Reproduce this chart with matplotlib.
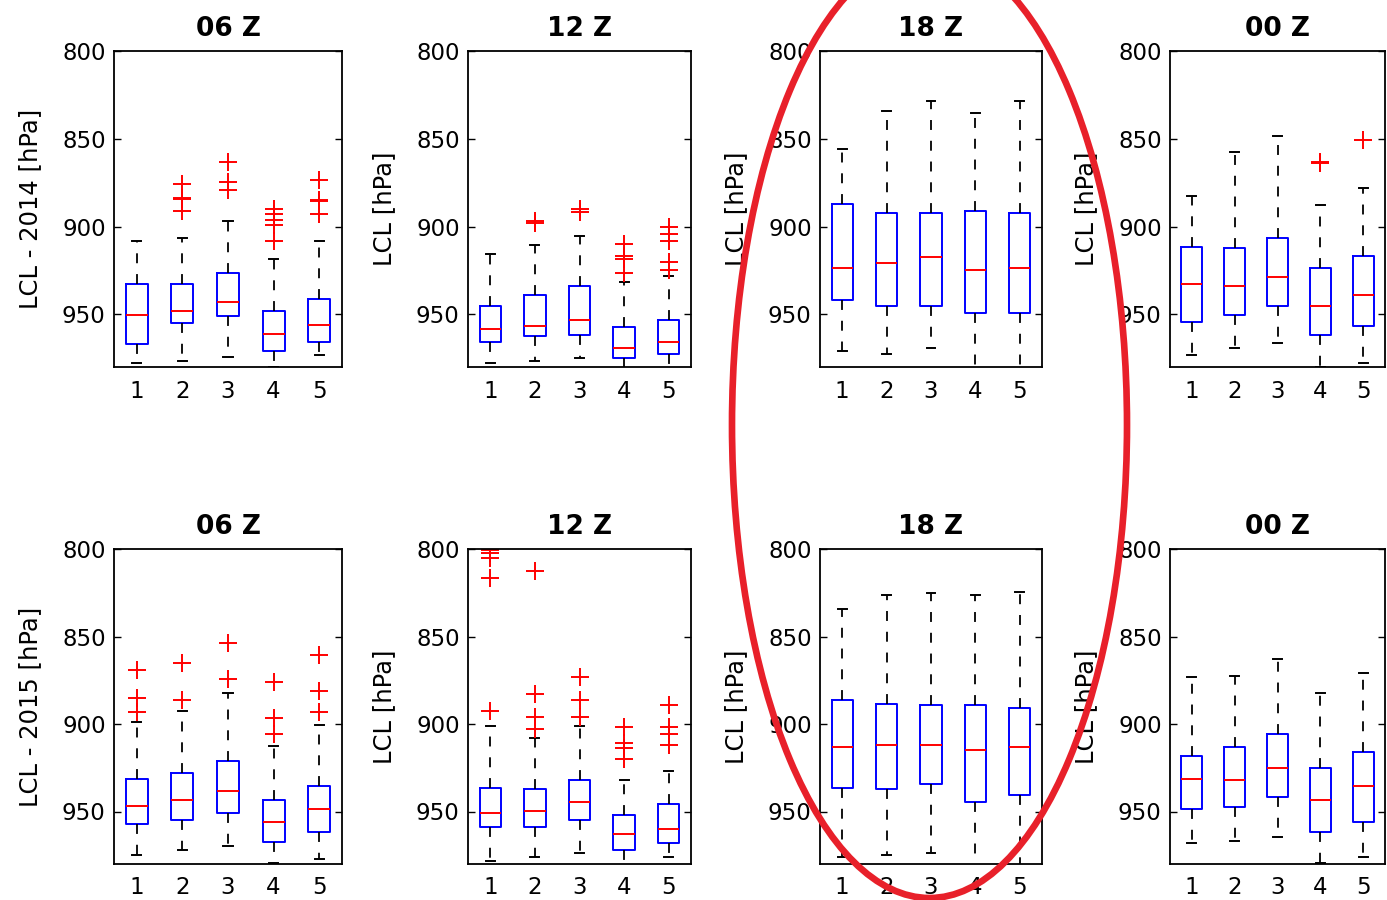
import matplotlib
matplotlib.use("Agg")
import matplotlib.pyplot as plt
from matplotlib.patches import Ellipse

plt.rcParams['font.family'] = ['DejaVu Sans']

hours = ['06 Z', '12 Z', '18 Z', '00 Z']
years = ['2014', '2015']
stations = [1, 2, 3, 4, 5]

# per panel (row = hour), five boxes each; pressure axis is inverted
# whisker ends (upper cap = lower pressure)
cap_top_2014 = [[908, 906.5, 897, 918.5, 908],
                [915.6, 910.3, 905.5, 931.4, 928],
                [856, 833.9, 828.6, 835.6, 828.6],
                [882.7, 857.7, 848.4, 887.8, 878.1]]
box_top_2014 = [[933, 933, 926.5, 948, 941],
                [945.1, 938.9, 933.9, 957.1, 953.3],
                [886.9, 892.2, 892.2, 891, 892.2],
                [911.6, 912.4, 906.5, 923.8, 916.6]]
median_2014 = [[950.3, 948, 943, 961.3, 956.2],
               [958.3, 956.4, 953.1, 969.3, 965.5],
               [923.8, 920.6, 917.5, 924.8, 923.8],
               [933, 933.9, 928.8, 945.1, 938.9]]
box_bot_2014 = [[966.7, 955.2, 951, 971, 965.5],
                [965.5, 962.5, 961.5, 974.7, 972.8],
                [941.9, 945.3, 945.3, 949.5, 949.5],
                [954.3, 950.3, 945.3, 961.5, 956.4]]
cap_bot_2014 = [[977.7, 976.6, 974.3, 980, 973.1],
                [977.7, 976.6, 974.7, 983, 983],
                [970.9, 972.8, 969.3, 983, 983],
                [973.3, 969.3, 966.5, 979.8, 977.5]]
outliers_2014 = [[[], [875.6, 883.6, 884.4, 890.9], [863.2, 874.5, 879.4],
                  [889.9, 892.8, 896, 898.9, 908.2], [873.7, 884.8, 885.5, 892.8]],
                 [[], [897, 898], [889.9, 891.8],
                  [909.9, 916.6, 918.5, 926.7], [900, 904.2, 908, 920.4, 924.8]],
                 [[], [], [], [], []],
                 [[], [], [], [863.5, 864], [850.9]]]

cap_top_2015 = [[898.7, 892.6, 882.5, 912.4, 900.6],
                [901.1, 907.8, 901, 932, 926.9],
                [834.5, 826.3, 825.3, 826.3, 824.4],
                [873, 872.4, 862.9, 882.5, 871]]
box_top_2015 = [[931.4, 928.2, 921.1, 943.6, 935.4],
                [936.4, 937.3, 932, 951.8, 945.5],
                [886.5, 888.6, 889.3, 889.3, 890.7],
                [918.1, 913, 905.5, 925.1, 915.8]]
median_2015 = [[946.7, 943.4, 938.3, 955.8, 948.6],
               [950.7, 949.5, 944.6, 962.9, 959.8],
               [913, 911.8, 911.8, 915, 913],
               [931.2, 932.2, 925.1, 943.4, 935.4]]
box_bot_2015 = [[957, 954.9, 950.9, 967.2, 961.9],
                [958.7, 958.7, 954.9, 972, 968.2],
                [936.4, 937.3, 934.5, 944.8, 940.6],
                [948.4, 947.6, 941.5, 961.9, 955.8]]
cap_bot_2015 = [[974.9, 972, 969.7, 979.5, 977.1],
                [978.3, 975.8, 973.9, 983, 975.8],
                [975.8, 974.9, 973.9, 983, 983],
                [968.2, 966.9, 964.8, 979.2, 975.8]]
outliers_2015 = [[[869.1, 885.3, 893.3], [865, 886.3], [853.5, 874.1],
                  [876.2, 896.6, 905.7], [860.6, 881, 893.3]],
                 [[800.6, 802.5, 805.3, 816.8, 892.4], [812.6, 883, 896.2, 902.7],
                  [873, 886.3, 895.8], [901.5, 910.7, 913.9, 920.2], [889, 901.9, 905.7, 911.8]],
                 [[], [], [], [], []],
                 [[], [], [], [], []]]

yticks = [800, 850, 900, 950]

W, H = 1387, 900
fig = plt.figure(figsize=(W / 100, H / 100), dpi=100)

col_left = [114, 468, 820, 1170]
col_right = [342, 691, 1042, 1385]
row_top = [51, 549]
row_bot = [367, 864]

data = {
    0: (cap_top_2014, box_top_2014, median_2014, box_bot_2014, cap_bot_2014, outliers_2014),
    1: (cap_top_2015, box_top_2015, median_2015, box_bot_2015, cap_bot_2015, outliers_2015),
}

for r in range(2):
    ct, bt, md, bb, cb, fl = data[r]
    for c in range(4):
        l, rr = col_left[c], col_right[c]
        t, b = row_top[r], row_bot[r]
        ax = fig.add_axes([l / W, 1 - b / H, (rr - l) / W, (b - t) / H])
        stats = []
        for i in range(5):
            stats.append(dict(whislo=ct[c][i], q1=bt[c][i], med=md[c][i],
                              q3=bb[c][i], whishi=cb[c][i], fliers=fl[c][i]))
        ax.bxp(stats, positions=stations, widths=0.48, capwidths=0.2,
               showfliers=True, patch_artist=False,
               boxprops=dict(color='#0000ff', linewidth=1.4),
               medianprops=dict(color='#ff0000', linewidth=1.4),
               whiskerprops=dict(color='black', linewidth=1.3, linestyle=(0, (5.5, 6))),
               capprops=dict(color='black', linewidth=1.4),
               flierprops=dict(marker='+', markeredgecolor='#ff0000', markersize=13,
                               markeredgewidth=1.4, linestyle='none'))
        ax.set_xlim(0.5, 5.5)
        ax.set_ylim(980, 800)
        ax.set_yticks(yticks)
        ax.set_xticks(stations)
        ax.set_xticklabels([str(s) for s in stations])
        ax.tick_params(axis='y', direction='in', length=5, width=1, right=True,
                       labelsize=16.5, pad=6)
        ax.tick_params(axis='x', length=0, labelsize=16.5, pad=9)
        for s in ax.spines.values():
            s.set_linewidth(1.3)
        ax.set_title(hours[c], fontsize=19, fontweight='bold', pad=11)
        if c == 0:
            lab = 'LCL - ' + years[r] + ' [hPa]'
        else:
            lab = 'LCL [hPa]'
        ax.set_ylabel(lab, fontsize=17.5)
        ax.yaxis.set_label_coords(-72 / (rr - l), 0.5)

# highlight around the 18 Z column
ell = Ellipse((929.5 / W, 1 - 425 / H), 395 / W, 946 / H, transform=fig.transFigure,
              fill=False, edgecolor='#e8202a', linewidth=4.8)
fig.add_artist(ell)

fig.savefig('out.png', dpi=100)
